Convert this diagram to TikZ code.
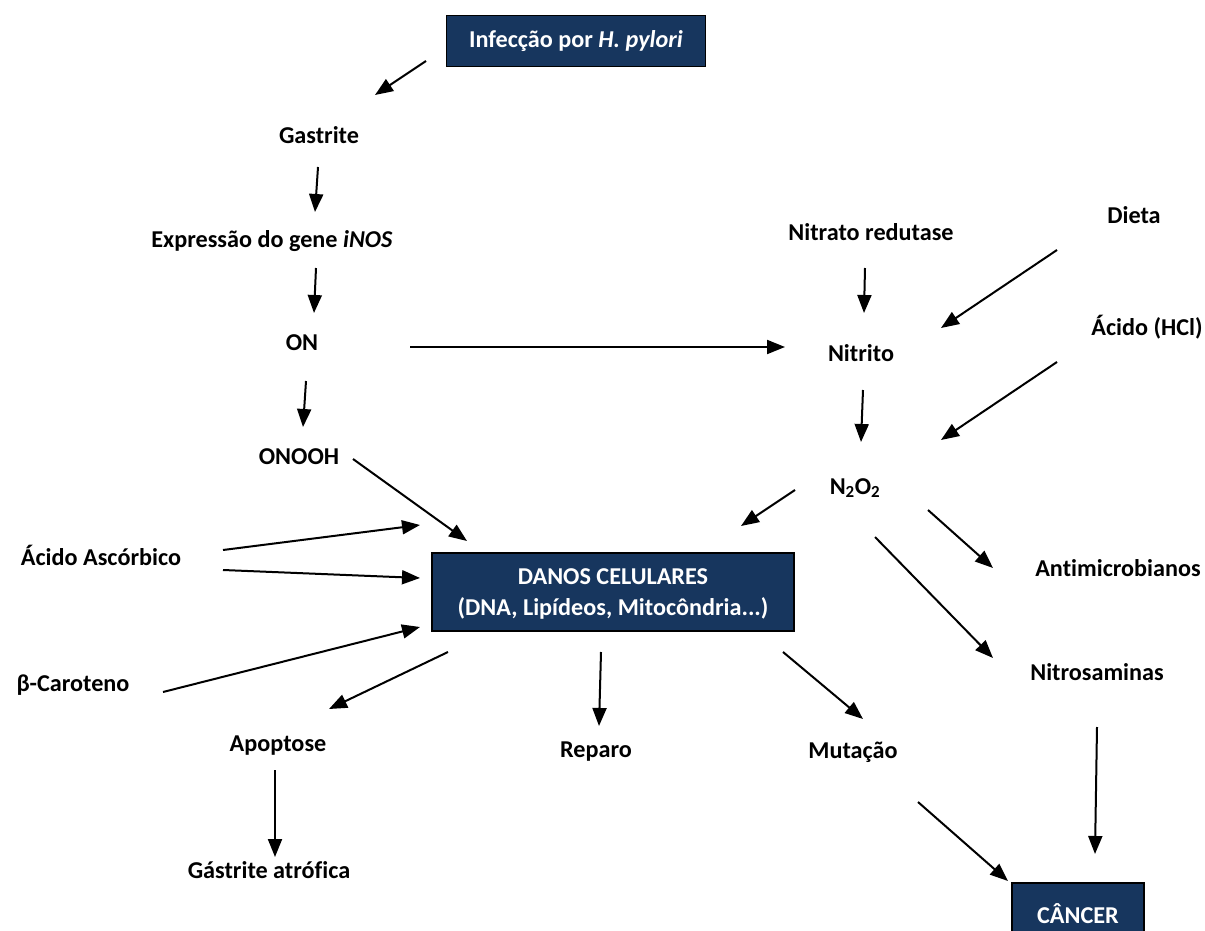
\documentclass[tikz,border=0pt]{standalone}
\usepackage{fontspec}
\setmainfont{Carlito}[Ligatures=NoCommon]
\usetikzlibrary{arrows.meta}
\definecolor{navy}{RGB}{23,54,94}
\begin{document}
\begin{tikzpicture}[x=1pt,y=-1pt,
  lbl/.style={font=\fontsize{24.2}{29}\selectfont\bfseries, inner sep=0pt, align=center},
  darkbox/.style={lbl, fill=navy, draw=black, line width=1.5pt, text=white},
  arr/.style={line width=2pt, -{Triangle[length=18pt,width=14pt]}}]
\useasboundingbox (0,0) rectangle (1205,931);
\begin{scope}
\clip (0,0) rectangle (1205,931);
% nodes
\node[darkbox, minimum width=259pt, minimum height=51pt] (inf) at (576,41) {Infecção por \textit{H. pylori}};
\node[lbl] (gas) at (319,135) {Gastrite};
\node[lbl] (exp) at (272,241) {Expressão do gene \textit{iNOS}};
\node[lbl] (on) at (302,343) {ON};
\node[lbl] (onooh) at (299,457) {ONOOH};
\node[lbl] (asc) at (101,555) {Ácido Ascórbico};
\node[lbl] (car) at (73,685) {β-Caroteno};
\node[darkbox, minimum width=362pt, minimum height=78pt, text depth=0pt] (dan) at (613,592) {DANOS CELULARES\\[2pt](DNA, Lipídeos, Mitocôndria...)};
\node[lbl] (apo) at (278,746) {Apoptose};
\node[lbl] (rep) at (596,752) {Reparo};
\node[lbl] (mut) at (853,752) {Mutação};
\node[lbl] (gat) at (269,870) {Gástrite atrófica};
\node[lbl] (nr) at (871,232) {Nitrato redutase};
\node[lbl] (die) at (1134,215) {Dieta};
\node[lbl] (nit) at (861,353) {Nitrito};
\node[lbl] (hcl) at (1147,327) {Ácido (HCl)};
\node[lbl] (n2o2) at (855,488) {N\textsubscript{2}O\textsubscript{2}};
\node[lbl] (ant) at (1118,568) {Antimicrobianos};
\node[lbl] (nsa) at (1097,672) {Nitrosaminas};
\node[darkbox, minimum width=132pt, minimum height=62pt] (can) at (1078,914) {CÂNCER};
% arrow end points
\coordinate (a1s) at (426,61);   \coordinate (a1e) at (375,95);
\coordinate (a2s) at (318,167);  \coordinate (a2e) at (315,212);
\coordinate (a3s) at (316,268);  \coordinate (a3e) at (314,313);
\coordinate (a4s) at (410,347);  \coordinate (a4e) at (785,347);
\coordinate (a5s) at (306,381);  \coordinate (a5e) at (303,427);
\coordinate (a6s) at (353,459);  \coordinate (a6e) at (467,541);
\coordinate (a7s) at (223,550);  \coordinate (a7e) at (420,525);
\coordinate (a8s) at (223,570);  \coordinate (a8e) at (420,578);
\coordinate (a9s) at (163,692);  \coordinate (a9e) at (420,627);
\coordinate (a10s) at (865,268); \coordinate (a10e) at (864,313);
\coordinate (a11s) at (1057,250);\coordinate (a11e) at (941,328);
\coordinate (a12s) at (1057,362);\coordinate (a12e) at (941,440);
\coordinate (a13s) at (863,390); \coordinate (a13e) at (861,442);
\coordinate (a14s) at (795,490); \coordinate (a14e) at (741,526);
\coordinate (a15s) at (928,510); \coordinate (a15e) at (993,568);
\coordinate (a16s) at (875,537); \coordinate (a16e) at (993,658);
\coordinate (a17s) at (448,652); \coordinate (a17e) at (329,709);
\coordinate (a18s) at (601,652); \coordinate (a18e) at (599,726);
\coordinate (a19s) at (783,652); \coordinate (a19e) at (863,719);
\coordinate (a20s) at (275,770); \coordinate (a20e) at (275,857);
\coordinate (a21s) at (918,802); \coordinate (a21e) at (1008,881);
\coordinate (a22s) at (1097,727);\coordinate (a22e) at (1095,854);
\foreach \i in {1,...,22} {\draw[arr] (a\i s) -- (a\i e);}
\end{scope}
\end{tikzpicture}
\end{document}
